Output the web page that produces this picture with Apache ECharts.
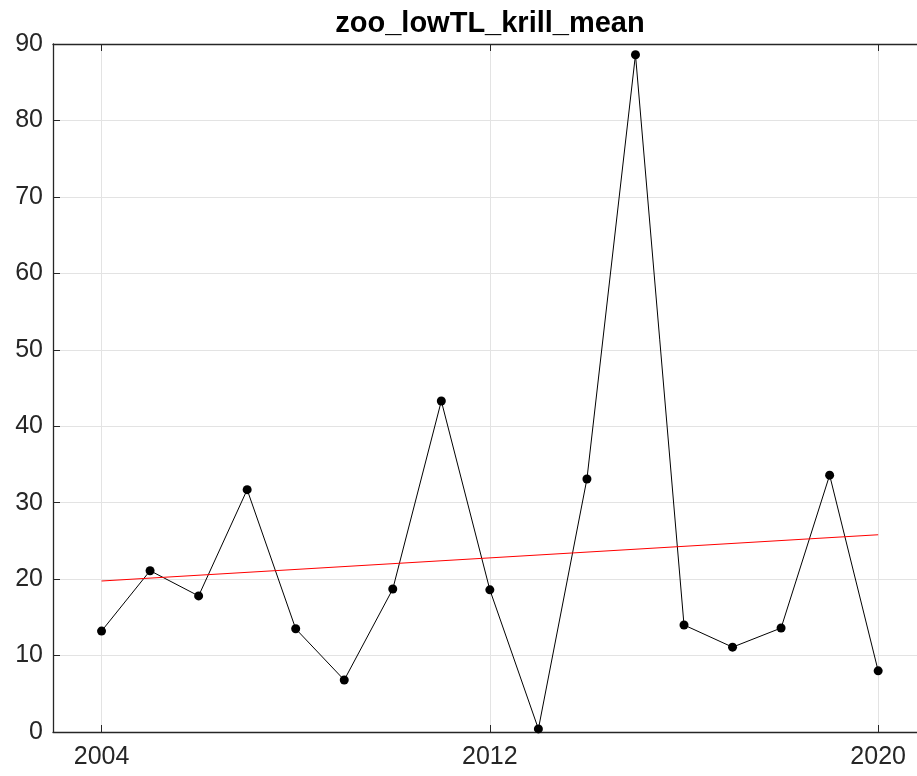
<!DOCTYPE html>
<html>
<head>
<meta charset="utf-8">
<script src="https://cdn.jsdelivr.net/npm/echarts@6/dist/echarts.min.js"></script>
<style>
html, body { margin: 0; padding: 0; background: #fff; }
#chart { width: 917px; height: 776px; }
</style>
</head>
<body>
<div id="chart"></div>
<script>
var years = [2004, 2005, 2006, 2007, 2008, 2009, 2010, 2011, 2012, 2013, 2014, 2015, 2016, 2017, 2018, 2019, 2020];
var krill = [13.2, 21.1, 17.8, 31.7, 13.5, 6.8, 18.7, 43.3, 18.6, 0.4, 33.1, 88.6, 14.0, 11.1, 13.6, 33.6, 8.0];
var trendYears = [2004, 2020];
var trendVals = [19.75, 25.8];
var xTicks = [2004, 2012, 2020];

var myChart = echarts.init(document.getElementById('chart'));

var axisCol = '#262626';
var gridCol = '#e3e3e3';

var xBase = {
	type : 'value',
	min : 2003,
	max : 2020.8,
	axisLine : { show : true, lineStyle : { color : axisCol, width : 1.3 } },
	axisTick : { show : true, inside : true, length : 7, customValues : xTicks, lineStyle : { color : axisCol } },
	axisLabel : {
		show : true,
		customValues : xTicks,
		color : axisCol,
		fontSize : 25,
		margin : 13,
		fontFamily : 'Liberation Sans',
		formatter : function(v) { return String(v); }
	},
	splitLine : { show : true, lineStyle : { color : gridCol } }
};

option = {
	backgroundColor : '#fff',
	animation : false,
	title : {
		text : 'zoo_lowTL_krill_mean',
		left : 485,
		textAlign : 'center',
		top : 4,
		textStyle : { color : '#000', fontSize : 29, fontWeight : 'bold', fontFamily : 'Liberation Sans' }
	},
	grid : { left : 53, right : 0, top : 44, bottom : 44, containLabel : false },
	xAxis : [
		Object.assign({}, xBase, { position : 'bottom' }),
		Object.assign({}, xBase, {
			position : 'top',
			axisLabel : { show : false },
			splitLine : { show : false }
		})
	],
	yAxis : [ {
		type : 'value',
		min : 0,
		max : 90,
		interval : 10,
		axisLine : { show : true, lineStyle : { color : axisCol, width : 1.3 } },
		axisTick : { show : true, inside : true, length : 7, lineStyle : { color : axisCol } },
		axisLabel : { color : axisCol, fontSize : 25, margin : 10, fontFamily : 'Liberation Sans' },
		splitLine : { show : true, lineStyle : { color : gridCol } }
	} ],
	series : [ {
		name : 'krill',
		type : 'line',
		symbol : 'circle',
		symbolSize : 9,
		itemStyle : { color : '#000' },
		lineStyle : { color : '#000', width : 1 },
		data : years.map(function(y, i) { return [y, krill[i]]; })
	}, {
		name : 'trend',
		type : 'line',
		symbol : 'none',
		lineStyle : { color : '#ff0000', width : 1.2 },
		data : trendYears.map(function(y, i) { return [y, trendVals[i]]; })
	} ]
};
myChart.setOption(option);
</script>
</body>
</html>
